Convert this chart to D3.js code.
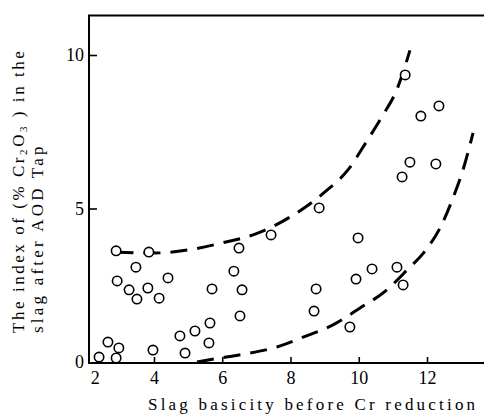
<!DOCTYPE html>
<html><head><meta charset="utf-8">
<script src="https://cdn.jsdelivr.net/npm/d3@7"></script>
<style>
html,body{margin:0;padding:0;background:#fff;}
svg text{font-family:"Liberation Serif","Times New Roman",serif;fill:#000;}
</style>
</head><body>
<svg id="c" width="484" height="416"></svg>
<script>
// Data
const basicity = [2.39,2.89,2.65,2.97,3.97,2.89,3.85,3.47,2.92,3.27,3.82,3.50,4.15,4.41,4.91,4.76,5.20,5.64,5.61,5.70,6.52,6.34,6.49,6.58,7.43,8.84,8.75,8.69,9.74,9.98,9.92,10.39,11.12,11.30,11.27,11.50,12.26,11.82,12.35,11.36];
const cr2o3Index = [0.16,0.13,0.65,0.46,0.39,3.62,3.58,3.09,2.64,2.35,2.41,2.05,2.08,2.74,0.29,0.85,1.01,1.27,0.62,2.38,1.50,2.96,3.71,2.35,4.14,5.02,2.38,1.66,1.14,4.04,2.70,3.03,3.09,2.51,6.03,6.51,6.45,8.01,8.34,9.35];
const upperX = [2.9,4.0,5.0,6.0,7.0,8.0,9.0,9.7,10.2,10.7,11.1,11.5];
const upperY = [3.58,3.55,3.65,3.88,4.18,4.73,5.53,6.28,7.13,8.03,8.83,10.15];
const lowerX = [5.26,5.93,6.67,7.6,8.37,9.3,10.04,10.77,11.41,11.94,12.38,12.76,13.08,13.35];
const lowerY = [0.0,0.13,0.26,0.49,0.81,1.24,1.76,2.3,2.99,3.61,4.36,5.34,6.35,7.46];
const xTicks = [2,4,6,8,10,12];
const yTicks = [0,5,10];
const xTitle = "Slag basicity before Cr reduction";

const svg = d3.select("#c");
const x = d3.scaleLinear().domain([2,14]).range([85.75,495.25]);
const y = d3.scaleLinear().domain([0,10]).range([362,55]);
const pL = 89, pR = 484, pT = 15.6, pB = 363;

// frame: left, bottom, top
const frame = svg.append("g").attr("stroke","#000").attr("stroke-width",2).attr("fill","none");
frame.append("line").attr("x1",pL).attr("x2",pL).attr("y1",pT).attr("y2",pB+1);
frame.append("line").attr("x1",pL-1).attr("x2",pR).attr("y1",pB).attr("y2",pB);
frame.append("line").attr("x1",pL-1).attr("x2",pR).attr("y1",pT).attr("y2",pT);

// x axis
const xAxis = d3.axisBottom(x).tickValues(xTicks).tickSize(0).tickPadding(8).tickFormat(d3.format("d"));
const gx = svg.append("g").attr("transform",`translate(0,${pB})`).call(xAxis);
gx.select(".domain").remove();
gx.selectAll(".tick text").attr("font-size",18).attr("font-family","Liberation Serif")
  .attr("dx",d=>d===2?9:0);
gx.selectAll(".tick").filter(d=>d!==2).append("line")
  .attr("y1",0).attr("y2",-6).attr("stroke","#000").attr("stroke-width",1.6);

// y axis
const yAxis = d3.axisLeft(y).tickValues(yTicks).tickSize(0).tickPadding(5).tickFormat(d3.format("d"));
const gy = svg.append("g").attr("transform",`translate(${pL},0)`).call(yAxis);
gy.select(".domain").remove();
gy.selectAll(".tick text").attr("font-size",18).attr("font-family","Liberation Serif");
gy.selectAll(".tick").filter(d=>d!==0).append("line")
  .attr("x1",0).attr("x2",8).attr("stroke","#000").attr("stroke-width",1.6);

// dashed envelope curves
const lg = d3.line().x(d=>x(d[0])).y(d=>y(d[1])).curve(d3.curveMonotoneX);
const upper = upperX.map((v,i)=>[v,upperY[i]]);
const lower = lowerX.map((v,i)=>[v,lowerY[i]]);
svg.append("path").attr("d",lg(upper)).attr("fill","none").attr("stroke","#000")
  .attr("stroke-width",3).attr("stroke-dasharray","17 10");
svg.append("path").attr("d",lg(lower)).attr("fill","none").attr("stroke","#000")
  .attr("stroke-width",3).attr("stroke-dasharray","17 10");

// points
svg.append("g").selectAll("circle").data(basicity.map((v,i)=>[v,cr2o3Index[i]])).join("circle")
  .attr("cx",d=>x(d[0])).attr("cy",d=>y(d[1])).attr("r",4.7)
  .attr("fill","#fff").attr("stroke","#000").attr("stroke-width",1.6);

// axis titles
svg.append("text").attr("x",148).attr("y",410).attr("font-size",17)
  .attr("letter-spacing",3.2).text(xTitle);

const l1 = svg.append("text").attr("transform","translate(24,333) rotate(-90)").attr("font-size",17).attr("letter-spacing",2.55);
l1.append("tspan").text("The index of (% Cr");
l1.append("tspan").attr("font-size",11).attr("dy",3).text("2");
l1.append("tspan").attr("dy",-3).text("O");
l1.append("tspan").attr("font-size",11).attr("dy",3).text("3");
l1.append("tspan").attr("dy",-3).text(" ) in the");
svg.append("text").attr("transform","translate(43,333) rotate(-90)").attr("font-size",17)
  .attr("letter-spacing",3.2).text("slag after AOD Tap");
</script>
</body></html>
